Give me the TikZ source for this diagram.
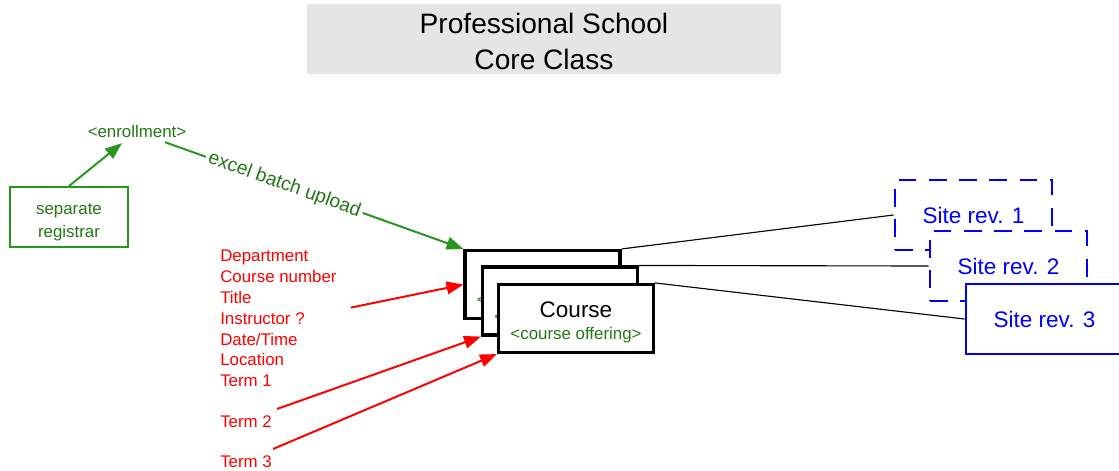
\documentclass[tikz,border=0pt]{standalone}
\usepackage{fontspec}
\setmainfont{Liberation Sans}
\usetikzlibrary{positioning}
\usetikzlibrary{arrows.meta}
\usetikzlibrary{calc}
\definecolor{regreen}{RGB}{40,150,30}
\definecolor{txgreen}{RGB}{35,120,20}
\newcommand{\coursetext}{\rule{0pt}{17pt}Course\\[-2pt]{\fontsize{12}{14}\selectfont\color{txgreen}<course offering>}}
\tikzset{
    mynodec/.style = {rectangle, draw=black, line width=2.2pt, fill=white, minimum width=3.875cm, minimum height=1.7cm, align=center, font=\fontsize{16}{18}\selectfont},
    mynodes/.style = {rectangle, draw=blue, line width=2pt, fill=white, minimum width=3.925cm, minimum height=1.75cm, text=blue, font=\fontsize{16}{18}\selectfont},
    mynodesd/.style = {mynodes, dash pattern=on 12.5pt off 9pt},
    mynodeg/.style = {rectangle, draw=regreen, line width=1.4pt, minimum width=2.95cm, minimum height=1.5cm, align=center, text=txgreen, font=\fontsize{12}{16}\selectfont},
    mytitle/.style = {rectangle, fill=gray!20, minimum width=11.85cm, minimum height=1.75cm, align=center, font=\fontsize{20}{24}\selectfont},
    labelr/.style = {inner sep=0pt, text=red, align=left, font=\fontsize{12}{14.8}\selectfont},
    labelg/.style = {text=txgreen, font=\fontsize{12}{14}\selectfont},
    edgen/.style = {black, line width=0.8pt},
    edger/.style = {-{Triangle[length=12pt,width=9pt]}, line width=1.4pt, red},
    edgeg/.style = {-{Triangle[length=12pt,width=9pt]}, line width=1.4pt, regreen}
}

\begin{document}
\begin{tikzpicture}[x=0.025cm, y=-0.025cm]
  \useasboundingbox (0,0) rectangle (1119,470);

  \node[mytitle] (title) at (544,39) {\rule{0pt}{18pt}Professional School\\[1pt]Core Class};

  \node[mynodeg] (reg) at (69,217) {\rule{0pt}{15.5pt}separate\\registrar};
  \node[labelg] (enrol) at (137,131) {<enrollment>};

  % course offerings
  \node[mynodec] (c1) at (542.5,284.5) {\coursetext};
  \node[mynodec] (c2) at (560,301) {\coursetext};
  \node[mynodec] (c3) at (576,318.5) {\coursetext};

  % site revisions
  \node[mynodesd] (s1) at (973.5,215) {Site rev. 1};
  \node[mynodesd] (s2) at (1008.5,266) {Site rev. 2};
  \node[mynodes] (s3) at (1044.5,319) {Site rev. 3};

  \node[labelr, anchor=north west] (fields) at (220,250) {Department\\Course number\\Title\\Instructor ?\\Date/Time\\Location\\Term 1};
  \node[labelr, anchor=base west] (term2) at (220,427) {Term 2};
  \node[labelr, anchor=base west] (term3) at (220,467) {Term 3};

  \draw[edgeg] (reg.north) -- ($(enrol.south)+(-15,1)$);
  \draw[edgeg] ($(enrol.south)+(28,0)$) -- (c1.north west)
    node[pos=0.4, sloped, fill=white, inner sep=2pt, text=txgreen, font=\fontsize{13.7}{16}\selectfont] (excel) {excel batch upload};

  \draw[edger] ($(fields.east)+(14,-11)$) -- (c1.west);
  \draw[edger] ($(term2.north east)+(5,-6)$) -- (c2.south west);
  \draw[edger] ($(term3.north east)+(1,-6)$) -- (c3.south west);

  \draw[edgen] (c1.north east) -- (s1.west);
  \draw[edgen] (c2.north east) -- (s2.west);
  \draw[edgen] (c3.north east) -- (s3.west);

\end{tikzpicture}
\end{document}
